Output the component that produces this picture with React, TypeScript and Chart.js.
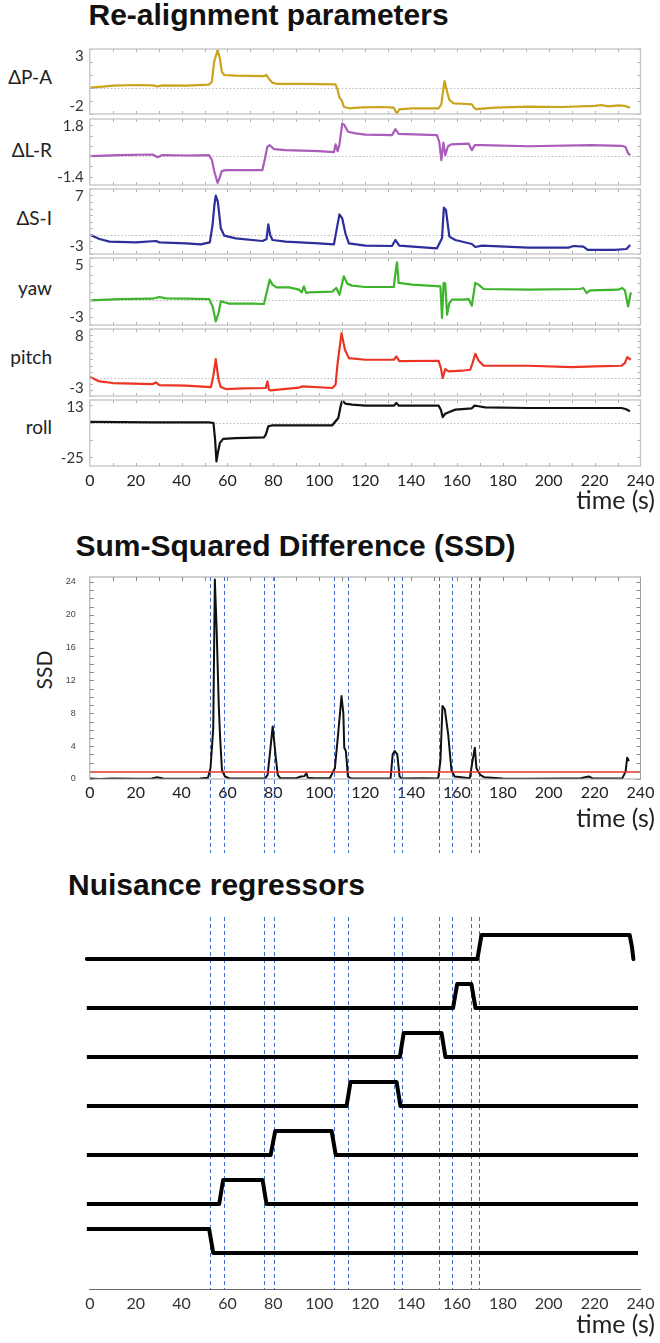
import React, { useEffect, useRef } from "react";
import { Chart, registerables } from "chart.js";

Chart.register(...registerables);

// ---------------- data ----------------
const TIME_TICKS = [0, 20, 40, 60, 80, 100, 120, 140, 160, 180, 200, 220, 240];
const SSD_TICKS = [0, 4, 8, 12, 16, 20, 24];

const PANEL_NAMES = ["\u0394P-A", "\u0394L-R", "\u0394S-I", "yaw", "pitch", "roll"];
const PANEL_MIN = [-2, -1.4, -3, -3, -3, -25];
const PANEL_MAX = [3, 1.8, 7, 5, 8, 13];
const PANEL_MINOR = [1, 0.5, 1, 1, 1, 10];
const PANEL_COLORS = ["#C9A51C", "#A95CBA", "#2B2E9B", "#3DB42C", "#EC3424", "#111111"];

const deltaPA = [[0.3,0.03],[5.7,0.1],[10,0.18],[20.1,0.23],[27.4,0.2],[29.6,0.13],[31.7,0.2],[41.9,0.18],[52,0.26],[53.2,0.49],[54.2,2.03],[55.7,2.92],[56.7,2.28],[57.5,1.26],[58.6,1.0],[63.6,0.95],[75.9,0.92],[77,1.0],[78.1,0.69],[79.6,0.41],[81.7,0.31],[92.6,0.31],[107.1,0.28],[108,-0.15],[108.8,-0.74],[109.7,-0.92],[110.7,-1.44],[112.9,-1.56],[118.7,-1.49],[127.4,-1.46],[132.5,-1.51],[133.2,-1.77],[133.9,-1.95],[134.9,-1.64],[140.4,-1.56],[152,-1.56],[153.2,-1.26],[153.9,-0.28],[154.6,0.54],[155.7,-0.28],[156.7,-0.92],[158.6,-1.18],[162.2,-1.21],[166.5,-1.26],[167.4,-1.51],[168.3,-1.62],[176.7,-1.51],[191.2,-1.44],[205.7,-1.46],[220.1,-1.38],[223,-1.31],[225.9,-1.41],[230.3,-1.33],[233.2,-1.38],[235.4,-1.51]];

const deltaLR = [[0.3,0],[12.9,0.05],[27.4,0.08],[29.6,-0.05],[31.7,0.05],[41.9,0.03],[52,0.05],[53.2,-0.19],[54.3,-0.76],[55.7,-1.3],[56.5,-1.08],[57.5,-0.73],[59.3,-0.68],[75.2,-0.68],[76.2,-0.19],[77.4,0.45],[78.4,0.53],[80.3,0.34],[85.4,0.29],[99.9,0.24],[106.4,0.19],[107.1,0.57],[108,0.24],[108.8,0.57],[110,1.58],[111,1.5],[112.5,1.18],[115.8,1.1],[120.1,1.04],[131.7,1.02],[133.2,1.31],[134.6,1.08],[151.3,1.02],[152.3,0.69],[153.2,-0.19],[154.1,0.66],[154.9,0.05],[156.1,0.48],[157.5,0.57],[165.1,0.61],[166.5,0.29],[167.7,0.53],[170.9,0.53],[191.2,0.48],[218.7,0.53],[231.7,0.5],[233.5,0.44],[234.6,0.13],[235.5,0.05]];

const deltaSI = [[0.3,-0.08],[4.2,-0.69],[8.6,-1.1],[20.1,-1.21],[28.8,-1.0],[30.3,-1.21],[41.9,-1.36],[48.4,-1.51],[52.3,-1.21],[53.5,1.46],[54.3,4.54],[54.9,5.97],[55.8,5.05],[57.1,0.95],[58.6,-0.18],[63.6,-0.59],[75.2,-1.0],[77,-0.74],[77.8,1.56],[78.6,-0.08],[79.6,-0.85],[85.4,-1.1],[99.9,-1.36],[106.4,-1.51],[107.4,0.44],[108.8,3.1],[110,2.49],[111.4,0.18],[112.9,-1.36],[120.1,-1.72],[131.7,-1.77],[133.2,-0.85],[134.9,-1.72],[151.3,-2.13],[153.5,-0.59],[154.3,4.13],[155.2,3.77],[156.7,-0.33],[159.3,-0.85],[166.5,-1.46],[168,-1.92],[170.9,-1.72],[191.2,-2.03],[208.6,-2.03],[210.7,-1.77],[215.1,-1.87],[217,-2.38],[228.8,-2.38],[233.9,-2.23],[235.5,-1.62]];

const yaw = [[0.3,-0.06],[12.9,0.1],[27.4,0.14],[30.3,0.34],[33.2,0.18],[41.9,0.14],[52,0.1],[53.5,-0.77],[54.9,-2.57],[56.1,-1.57],[57.1,-0.18],[58.6,-0.29],[60.7,-0.45],[70.9,-0.45],[75.9,-0.49],[77,0.82],[78.4,2.41],[79.6,1.82],[81.3,1.5],[86.8,1.5],[91.2,1.22],[92.3,0.9],[93.3,1.62],[94.3,0.82],[95.5,0.9],[105.7,0.98],[107.4,1.42],[108.8,0.62],[110.7,2.81],[112.2,1.94],[114.3,1.7],[120.1,1.54],[132.5,1.54],[133.2,3.21],[133.9,4.49],[134.6,2.02],[140.4,1.82],[152.8,1.62],[153.5,-2.17],[154.2,2.02],[154.9,1.94],[155.7,-1.77],[156.7,-0.37],[157.8,0.02],[162.2,0.02],[165.1,0.1],[166.5,-0.69],[168,2.02],[169.4,1.82],[171.6,1.3],[191.2,1.22],[213.6,1.3],[215.1,1.42],[216.5,0.82],[218,1.14],[230.3,1.22],[232,1.42],[233.2,1.14],[234.6,-0.77],[235.8,0.9]];

const pitch = [[0.1,0.11],[4.2,-0.6],[10,-0.87],[27.4,-1.04],[28.8,-0.77],[30.3,-1.2],[41.9,-1.31],[52.8,-1.53],[53.8,0.22],[54.9,3.06],[56.1,-0.33],[57.1,-1.53],[59.3,-1.86],[66.5,-1.75],[76.7,-1.69],[77.4,-0.6],[78.1,-1.97],[78.8,-2.08],[91.2,-1.64],[92.6,-1.42],[105.7,-1.69],[107.1,-1.15],[108,2.4],[109.7,7.32],[111.2,4.59],[112.9,3.22],[120.1,2.95],[132.5,2.95],[133.6,3.5],[134.9,2.73],[152,2.79],[153,1.58],[153.8,-0.05],[154.9,1.42],[156.4,1.04],[162.2,1.15],[165.8,1.31],[166.8,2.4],[168,3.93],[169.4,2.84],[171.6,1.97],[191.2,1.97],[210,1.75],[220.1,1.86],[231.7,1.97],[233.2,2.4],[234.2,3.39],[235.8,2.95]];

const roll = [[0.1,0.35],[27.4,0.15],[52,0.15],[53.9,-0.23],[54.6,-9.8],[55.2,-22.3],[55.8,-17.5],[56.7,-11.7],[58.1,-9.4],[63.6,-8.9],[75.9,-8.5],[76.7,-6.9],[77.8,-2.15],[79.6,-1.57],[105.7,-1.57],[107.1,0.73],[108.3,2.65],[109.3,9.4],[110,12.8],[111.4,10.9],[114.3,10.3],[120.1,9.75],[132.5,9.75],[133.6,11.3],[134.6,9.75],[152,9.75],[153,7.4],[153.8,3.2],[154.9,5.1],[156.7,6.1],[159.3,7.45],[166.5,8.2],[167.7,9.75],[169.4,9.4],[172.3,8.8],[191.2,8.4],[231.7,8.4],[233.5,7.8],[235.4,6.5]];

const PANEL_SERIES = [deltaPA, deltaLR, deltaSI, yaw, pitch, roll];

const ssd = [[0,0.05],[4,0],[10,0.05],[20,0.02],[27,0.05],[29,0.2],[30.5,0.15],[32,0.05],[40,0.02],[48,0.05],[51.5,0.15],[52.6,1.3],[53.8,6.2],[54.5,24.3],[55.3,18],[56.2,9],[56.8,5],[57.6,1.1],[58.9,0.3],[61,0.05],[70,0.05],[76.5,0.1],[77.5,0.5],[78.6,3.4],[79.7,6.4],[80.4,4.5],[80.9,3.0],[81.9,0.5],[83,0.1],[90,0.1],[92,0.3],[93.5,0.35],[94.4,0.7],[95,0.15],[98,0.1],[104.6,0.1],[106.8,1.3],[108.2,5.4],[109.7,10.1],[110.5,8],[110.9,3.8],[111.6,3.4],[112.5,0.3],[114,0.05],[125,0.05],[131.1,0.1],[132,3.0],[132.9,3.4],[134,3.0],[135,0.3],[136,0.05],[145,0.1],[151.8,0.05],[152.8,2.2],[153.7,8.9],[154.7,8.5],[156.2,5.4],[157.6,1.1],[159,0.3],[165.6,0.1],[166.8,2.2],[167.8,3.8],[168.5,1.3],[170.2,0.5],[172,0.2],[180,0.05],[191.8,0.02],[205,0.05],[214,0.1],[217.4,0.3],[219,0.1],[225,0.05],[232.1,0.1],[233.5,0.9],[234.2,2.6],[235,2.2]];
const SSD_THRESHOLD = 0.85;

const DASH_TIMES = [52.2, 58.5, 76.0, 80.1, 106.4, 112.6, 132.4, 135.9, 152.4, 158.0, 166.1, 169.4];

// nuisance regressors, top row first: [time, on(1)/off(0)]
const regressor1 = [[-1.3,0],[168.9,0],[170.7,1],[235.3,1],[236.3,0.5],[236.9,0]];
const regressor2 = [[-1.3,0],[158.3,0],[160.1,1],[166.3,1],[168.1,0],[238.9,0]];
const regressor3 = [[-1.3,0],[135.1,0],[136.8,1],[153.3,1],[155,0],[238.9,0]];
const regressor4 = [[-1.3,0],[111.9,0],[113.6,1],[133.7,1],[135.4,0],[238.9,0]];
const regressor5 = [[-1.3,0],[78.8,0],[80.8,1],[105.4,1],[107.2,0],[238.9,0]];
const regressor6 = [[-1.3,0],[56.4,0],[58.1,1],[75.3,1],[77,0],[238.9,0]];
const regressor7 = [[-1.3,1],[52,1],[53.8,0],[238.9,0]];
const REGRESSORS = [regressor1, regressor2, regressor3, regressor4, regressor5, regressor6, regressor7];

// ---------------- layout ----------------
const W = 660;
const PLOT_LEFT = 89.8;
const RIGHT_PAD = 19.5;
const PANEL_TOP = [49, 119, 189, 258, 329, 400];
const PANEL_BOTTOM = [114, 185, 254, 325, 396, 466];
const STEP_HEIGHT = 0.49;

const framePlugin: any = {
  id: "frame",
  beforeDatasetsDraw(chart: any, _a: any, o: any) {
    const { ctx, chartArea: a } = chart;
    const xs = chart.scales.x;
    const ys = chart.scales.y;
    ctx.save();
    if (o.zero) {
      const py = Math.round(ys.getPixelForValue(0)) + 0.5;
      ctx.strokeStyle = "#b8b8b8";
      ctx.lineWidth = 1;
      ctx.setLineDash([1.5, 2]);
      ctx.beginPath();
      ctx.moveTo(a.left, py);
      ctx.lineTo(a.right, py);
      ctx.stroke();
    }
    if (o.dashTimes) {
      ctx.strokeStyle = "#3E6ED0";
      ctx.lineWidth = 1;
      ctx.setLineDash([4, 3]);
      for (const t of o.dashTimes) {
        const px = Math.round(xs.getPixelForValue(t)) + 0.5;
        ctx.beginPath();
        ctx.moveTo(px, a.top);
        ctx.lineTo(px, a.bottom + (o.dashExtend || 0));
        ctx.stroke();
      }
    }
    ctx.restore();
  },
  afterDraw(chart: any, _a: any, o: any) {
    if (!o.box) return;
    const { ctx, chartArea: a } = chart;
    const xs = chart.scales.x;
    const ys = chart.scales.y;
    ctx.save();
    ctx.setLineDash([]);
    ctx.strokeStyle = o.tickColor;
    ctx.lineWidth = 1;
    const tl = o.tickLen;
    for (let t = o.xStep; t < xs.max; t += o.xStep) {
      const px = Math.round(xs.getPixelForValue(t)) + 0.5;
      ctx.beginPath();
      ctx.moveTo(px, a.top);
      ctx.lineTo(px, a.top + tl);
      if (o.bottomTicks) {
        ctx.moveTo(px, a.bottom);
        ctx.lineTo(px, a.bottom - tl);
      }
      ctx.stroke();
    }
    const start = Math.ceil(ys.min / o.yStep - 1e-9) * o.yStep;
    for (let v = start; v <= ys.max + 1e-9; v += o.yStep) {
      const py = Math.round(ys.getPixelForValue(v)) + 0.5;
      ctx.beginPath();
      ctx.moveTo(a.left, py);
      ctx.lineTo(a.left + tl, py);
      ctx.moveTo(a.right, py);
      ctx.lineTo(a.right - tl, py);
      ctx.stroke();
    }
    ctx.strokeStyle = o.color;
    ctx.lineWidth = o.lineWidth || 1;
    ctx.strokeRect(a.left, a.top, a.right - a.left, a.bottom - a.top);
    ctx.restore();
  },
};

const pts = (arr: number[][]) => arr.map(([x, y]) => ({ x, y }));
const timeTicks = (s: any) => {
  s.ticks = TIME_TICKS.map((v) => ({ value: v }));
};
const fixYAxis = (s: any) => {
  s.width = PLOT_LEFT;
  s.paddingTop = 0;
  s.paddingBottom = 0;
};

function panelConfig(i: number) {
  const min = PANEL_MIN[i];
  const max = PANEL_MAX[i];
  const showX = i === PANEL_MIN.length - 1;
  return {
    type: "line",
    data: {
      datasets: [
        {
          data: pts(PANEL_SERIES[i]),
          borderColor: PANEL_COLORS[i],
          borderWidth: 2.2,
          pointRadius: 0,
          tension: 0,
          fill: false,
          borderJoinStyle: "round",
        },
      ],
    },
    options: {
      animation: false,
      responsive: false,
      devicePixelRatio: 1,
      layout: { padding: { top: 2, bottom: 2, left: 0, right: RIGHT_PAD } },
      plugins: {
        legend: { display: false },
        tooltip: { enabled: false },
        frame: { box: true, zero: true, xStep: 10, yStep: PANEL_MINOR[i], tickLen: 3, color: "#c4c4c4", tickColor: "#b0b0b0", lineWidth: 1.3, bottomTicks: true },
      },
      scales: {
        x: {
          type: "linear",
          min: 0,
          max: 240,
          display: showX,
          afterBuildTicks: timeTicks,
          afterFit: (s: any) => { if (showX) s.height = 30; },
          grid: { display: false, drawTicks: false },
          border: { display: false },
          ticks: { font: { family: "Lato", size: 16 }, color: "#222", padding: 5, maxRotation: 0, autoSkip: false },
        },
        y: {
          type: "linear",
          min,
          max,
          afterBuildTicks: (s: any) => { s.ticks = [{ value: min }, { value: max }]; },
          afterFit: fixYAxis,
          grid: { display: false, drawTicks: false },
          border: { display: false },
          ticks: {
            font: { family: "Lato", size: 15, lineHeight: 1.0 },
            color: "#333",
            padding: 6,
            autoSkip: false,
            callback: (v: number) => (v === max ? ["", String(max)] : [String(min), ""]),
          },
        },
      },
    },
    plugins: [framePlugin],
  };
}

function ssdConfig() {
  return {
    type: "line",
    data: {
      datasets: [
        {
          data: [{ x: 0, y: SSD_THRESHOLD }, { x: 240, y: SSD_THRESHOLD }],
          borderColor: "#E8322A",
          borderWidth: 1.5,
          pointRadius: 0,
        },
        {
          data: pts(ssd),
          borderColor: "#111",
          borderWidth: 2,
          pointRadius: 0,
          tension: 0,
          borderJoinStyle: "round",
        },
      ],
    },
    options: {
      animation: false,
      responsive: false,
      devicePixelRatio: 1,
      layout: { padding: { top: 17, bottom: 51, left: 0, right: RIGHT_PAD } },
      plugins: {
        legend: { display: false },
        tooltip: { enabled: false },
        frame: { box: true, xStep: 10, yStep: 1, tickLen: 4, color: "#a0a0a0", tickColor: "#888", lineWidth: 1, dashTimes: DASH_TIMES, dashExtend: 74 },
      },
      scales: {
        x: {
          type: "linear",
          min: 0,
          max: 240,
          afterBuildTicks: timeTicks,
          afterFit: (s: any) => { s.height = 30; },
          grid: { display: false, drawTicks: false },
          border: { display: false },
          ticks: { font: { family: "Lato", size: 16 }, color: "#222", padding: 4, maxRotation: 0, autoSkip: false },
        },
        y: {
          type: "linear",
          min: 0,
          max: 24.6,
          afterBuildTicks: (s: any) => { s.ticks = SSD_TICKS.map((v) => ({ value: v })); },
          afterFit: fixYAxis,
          grid: { display: false, drawTicks: false },
          border: { display: false },
          ticks: { font: { family: "Liberation Sans", size: 9 }, color: "#444", padding: 14, autoSkip: false },
        },
      },
    },
    plugins: [framePlugin],
  };
}

function nuisanceConfig() {
  const n = REGRESSORS.length;
  return {
    type: "line",
    data: {
      datasets: REGRESSORS.map((r, k) => ({
        data: r.map(([x, on]) => ({ x, y: n - 1 - k + on * STEP_HEIGHT })),
        borderColor: "#000",
        borderWidth: 4,
        pointRadius: 0,
        tension: 0,
        clip: false,
        borderJoinStyle: "round",
        borderCapStyle: k === 0 ? "round" : "butt",
      })),
    },
    options: {
      animation: false,
      responsive: false,
      devicePixelRatio: 1,
      layout: { padding: { top: 17, bottom: 21, left: PLOT_LEFT, right: RIGHT_PAD } },
      plugins: {
        legend: { display: false },
        tooltip: { enabled: false },
        frame: { box: false, dashTimes: DASH_TIMES, dashExtend: 0 },
      },
      scales: {
        x: {
          type: "linear",
          min: 0,
          max: 240,
          afterBuildTicks: timeTicks,
          afterFit: (s: any) => { s.height = 30; },
          grid: { display: false, drawTicks: false },
          border: { display: true, color: "#666", width: 1 },
          ticks: { font: { family: "Lato", size: 16 }, color: "#333", padding: 5, maxRotation: 0, autoSkip: false },
        },
        y: { type: "linear", min: -0.735, max: 6.86, display: false },
      },
    },
    plugins: [framePlugin],
  };
}

function ChartBox({ top, height, make }: { top: number; height: number; make: () => any }) {
  const ref = useRef<HTMLCanvasElement | null>(null);
  useEffect(() => {
    if (!ref.current) return;
    const chart = new Chart(ref.current, make());
    return () => chart.destroy();
  }, []);
  return (
    <canvas
      ref={ref}
      width={W}
      height={height}
      style={{ position: "absolute", left: 0, top, width: W, height, display: "block" }}
    />
  );
}

const titleStyle: React.CSSProperties = {
  position: "absolute",
  fontFamily: "'Liberation Sans', Arial, sans-serif",
  fontWeight: 700,
  fontSize: 30,
  lineHeight: "30px",
  color: "#111",
  whiteSpace: "nowrap",
};
const labelFont = "Lato, 'Open Sans', 'DejaVu Sans', sans-serif";
const timeStyle = (top: number): React.CSSProperties => ({
  position: "absolute",
  right: 5,
  top,
  fontFamily: labelFont,
  fontSize: 25,
  lineHeight: "25px",
  color: "#222",
  whiteSpace: "nowrap",
});
const NAME_TOPS = [66.5, 139.5, 207.5, 277.5, 346.5, 416.5];

export default function App() {
  return (
    <div style={{ position: "absolute", left: 0, top: 0, width: W, height: 1343, overflow: "hidden", background: "#fff" }}>
      <div style={{ ...titleStyle, left: 88.5, top: 0 }}>Re-alignment parameters</div>
      {PANEL_NAMES.map((name, i) => (
        <div
          key={name}
          style={{
            position: "absolute",
            left: 0,
            width: 52,
            top: NAME_TOPS[i],
            textAlign: "right",
            fontFamily: labelFont,
            fontSize: 19,
            lineHeight: "19px",
            color: "#222",
            whiteSpace: "nowrap",
          }}
        >
          {name}
        </div>
      ))}
      {PANEL_TOP.map((t, i) => {
        const last = i === PANEL_TOP.length - 1;
        const h = PANEL_BOTTOM[i] - t + 4 + (last ? 30 : 0);
        return <ChartBox key={i} top={t - 2} height={h} make={() => panelConfig(i)} />;
      })}
      <div style={timeStyle(487)}>time (s)</div>

      <div style={{ ...titleStyle, left: 75.5, top: 530.6 }}>Sum-Squared Difference (SSD)</div>
      <div
        style={{
          position: "absolute",
          left: 43,
          top: 670,
          transform: "translate(-50%, -50%) rotate(-90deg)",
          fontFamily: labelFont,
          fontSize: 21,
          lineHeight: "21px",
          color: "#222",
          whiteSpace: "nowrap",
        }}
      >
        SSD
      </div>
      <ChartBox top={560} height={300} make={ssdConfig} />
      <div style={timeStyle(805)}>time (s)</div>

      <div style={{ ...titleStyle, left: 68, top: 869.6 }}>Nuisance regressors</div>
      <ChartBox top={900} height={440} make={nuisanceConfig} />
      <div style={timeStyle(1310.5)}>time (s)</div>
    </div>
  );
}
